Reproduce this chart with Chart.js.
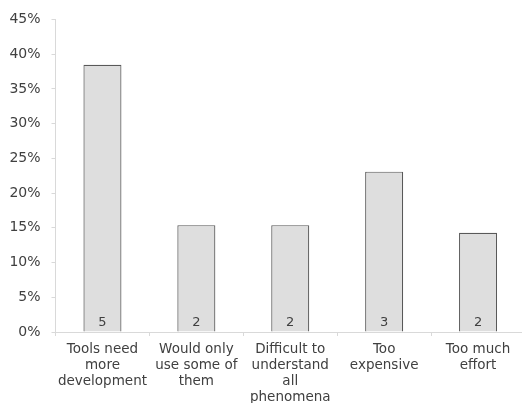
<!DOCTYPE html>
<html>
<head>
<meta charset="utf-8">
<script src="https://cdn.jsdelivr.net/npm/chart.js@4"></script>
<style>
  html, body { margin: 0; padding: 0; background: #fff; overflow: hidden; }
  #wrap { position: relative; width: 525px; height: 403px; }
</style>
</head>
<body>
<div id="wrap"><canvas id="reasonsChart"></canvas></div>
<script>
// Reasons for not using the tools
const categories = [
  ['Tools need', 'more', 'development'],
  ['Would only', 'use some of', 'them'],
  ['Difficult to', 'understand', 'all', 'phenomena'],
  ['Too', 'expensive'],
  ['Too much', 'effort']
];
const shares = [38.46, 15.38, 15.38, 23.08, 14.29]; // percent of answers
const counts = [5, 2, 2, 3, 2];                      // number of answers
const yTicks = [0, 5, 10, 15, 20, 25, 30, 35, 40, 45];

const TEXT_COLOR = '#404040';
const AXIS_COLOR = '#d9d9d9';
const FONT = 'DejaVu Sans';

// Draw answer counts at the bottom of each bar
const countLabels = {
  id: 'countLabels',
  afterDatasetsDraw(chart) {
    const ctx = chart.ctx;
    const meta = chart.getDatasetMeta(0);
    ctx.save();
    ctx.font = '13px "' + FONT + '"';
    ctx.fillStyle = TEXT_COLOR;
    ctx.textAlign = 'center';
    ctx.textBaseline = 'middle';
    meta.data.forEach((bar, i) => {
      ctx.fillText(String(counts[i]), bar.x, bar.base - 9);
    });
    ctx.restore();
  }
};

new Chart(document.getElementById('reasonsChart'), {
  type: 'bar',
  data: {
    labels: categories,
    datasets: [{
      data: shares,
      backgroundColor: '#dedede',
      borderColor: '#595959',
      borderWidth: 1.2,
      categoryPercentage: 1,
      barPercentage: 0.405
    }]
  },
  options: {
    responsive: true,
    maintainAspectRatio: false,
    animation: false,
    layout: { padding: { top: 4.3, right: 0, left: 0, bottom: 0 } },
    plugins: {
      legend: { display: false },
      tooltip: { enabled: false }
    },
    scales: {
      x: {
        afterFit: (s) => { s.height = 71; },
        grid: {
          offset: true,
          drawOnChartArea: false,
          drawTicks: true,
          tickLength: 4,
          color: AXIS_COLOR
        },
        border: { color: AXIS_COLOR },
        ticks: {
          color: TEXT_COLOR,
          font: { family: FONT, size: 13.5, lineHeight: 1.17 },
          padding: 6,
          maxRotation: 0,
          autoSkip: false
        }
      },
      y: {
        min: 0,
        max: 45,
        afterFit: (s) => { s.width = 55.5; },
        afterBuildTicks: (s) => { s.ticks = yTicks.map(v => ({ value: v })); },
        grid: {
          drawOnChartArea: false,
          drawTicks: true,
          tickLength: 4,
          color: AXIS_COLOR
        },
        border: { color: AXIS_COLOR },
        ticks: {
          color: TEXT_COLOR,
          font: { family: FONT, size: 14 },
          padding: 11,
          callback: (v) => v + '%'
        }
      }
    }
  },
  plugins: [countLabels]
});
</script>
</body>
</html>
